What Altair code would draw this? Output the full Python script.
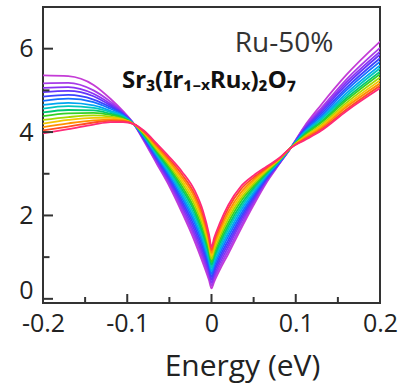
import altair as alt
import pandas as pd

# Energy grid (eV)
energy = [-0.2, -0.17, -0.14, -0.12, -0.105, -0.092, -0.08, -0.065, -0.05, -0.035,
          -0.02, -0.01, -0.003, 0.0, 0.003, 0.01, 0.02, 0.035, 0.05, 0.065,
          0.08, 0.094, 0.11, 0.13, 0.16, 0.2]

# 15 spectra (purple -> pink)
c00 = [5.36, 5.34, 5.13, 4.80, 4.50, 4.19, 3.78, 3.24, 2.70, 2.07, 1.38, 0.85, 0.45, 0.25, 0.40, 0.70, 1.08, 1.68, 2.25, 2.78, 3.22, 3.62, 4.13, 4.65, 5.37, 6.17]
c01 = [5.17, 5.18, 5.00, 4.73, 4.48, 4.19, 3.80, 3.27, 2.75, 2.14, 1.47, 0.94, 0.53, 0.32, 0.48, 0.78, 1.16, 1.75, 2.30, 2.81, 3.23, 3.62, 4.11, 4.57, 5.26, 6.02]
c02 = [5.06, 5.08, 4.92, 4.68, 4.46, 4.19, 3.82, 3.31, 2.80, 2.21, 1.55, 1.03, 0.61, 0.39, 0.55, 0.86, 1.25, 1.83, 2.35, 2.84, 3.24, 3.62, 4.08, 4.52, 5.19, 5.93]
c03 = [4.96, 4.99, 4.86, 4.64, 4.44, 4.19, 3.83, 3.34, 2.85, 2.28, 1.64, 1.12, 0.69, 0.46, 0.63, 0.94, 1.33, 1.90, 2.40, 2.86, 3.25, 3.62, 4.06, 4.48, 5.13, 5.86]
c04 = [4.85, 4.89, 4.78, 4.60, 4.43, 4.19, 3.85, 3.38, 2.90, 2.35, 1.73, 1.21, 0.76, 0.53, 0.70, 1.02, 1.41, 1.97, 2.45, 2.89, 3.26, 3.62, 4.04, 4.43, 5.06, 5.77]
c05 = [4.75, 4.80, 4.72, 4.56, 4.41, 4.19, 3.87, 3.41, 2.95, 2.42, 1.82, 1.30, 0.84, 0.60, 0.78, 1.10, 1.50, 2.04, 2.50, 2.92, 3.27, 3.62, 4.01, 4.38, 5.00, 5.69]
c06 = [4.65, 4.70, 4.64, 4.51, 4.39, 4.19, 3.89, 3.45, 3.00, 2.49, 1.90, 1.39, 0.92, 0.67, 0.85, 1.18, 1.58, 2.12, 2.55, 2.95, 3.28, 3.62, 3.99, 4.33, 4.93, 5.60]
c07 = [4.56, 4.62, 4.58, 4.48, 4.37, 4.19, 3.91, 3.48, 3.05, 2.56, 1.99, 1.48, 1.00, 0.75, 0.93, 1.26, 1.67, 2.19, 2.61, 2.98, 3.30, 3.62, 3.97, 4.30, 4.87, 5.53]
c08 = [4.47, 4.53, 4.52, 4.44, 4.35, 4.19, 3.92, 3.51, 3.10, 2.63, 2.08, 1.56, 1.08, 0.82, 1.00, 1.34, 1.75, 2.26, 2.66, 3.00, 3.31, 3.62, 3.94, 4.25, 4.81, 5.45]
c09 = [4.38, 4.45, 4.46, 4.41, 4.33, 4.19, 3.94, 3.55, 3.15, 2.70, 2.16, 1.65, 1.16, 0.89, 1.08, 1.42, 1.83, 2.34, 2.71, 3.03, 3.32, 3.62, 3.92, 4.22, 4.76, 5.39]
c10 = [4.29, 4.36, 4.40, 4.37, 4.31, 4.19, 3.96, 3.58, 3.20, 2.77, 2.25, 1.74, 1.24, 0.96, 1.15, 1.50, 1.92, 2.41, 2.76, 3.06, 3.33, 3.62, 3.89, 4.17, 4.70, 5.31]
c11 = [4.20, 4.29, 4.34, 4.34, 4.30, 4.19, 3.98, 3.62, 3.25, 2.84, 2.34, 1.83, 1.31, 1.03, 1.23, 1.58, 2.00, 2.48, 2.81, 3.09, 3.34, 3.62, 3.87, 4.14, 4.65, 5.24]
c12 = [4.12, 4.21, 4.28, 4.30, 4.28, 4.19, 3.99, 3.65, 3.30, 2.91, 2.43, 1.92, 1.39, 1.10, 1.30, 1.66, 2.08, 2.55, 2.86, 3.12, 3.35, 3.62, 3.85, 4.10, 4.60, 5.17]
c13 = [4.04, 4.13, 4.23, 4.27, 4.26, 4.19, 4.01, 3.69, 3.35, 2.98, 2.51, 2.01, 1.47, 1.17, 1.38, 1.74, 2.17, 2.63, 2.91, 3.14, 3.36, 3.62, 3.82, 4.06, 4.54, 5.11]
c14 = [3.97, 4.07, 4.18, 4.24, 4.24, 4.19, 4.03, 3.72, 3.40, 3.05, 2.60, 2.10, 1.55, 1.24, 1.45, 1.82, 2.25, 2.70, 2.96, 3.17, 3.37, 3.62, 3.80, 4.03, 4.50, 5.05]

series = [c00, c01, c02, c03, c04, c05, c06, c07, c08, c09, c10, c11, c12, c13, c14]
curve_names = [f"s{i:02d}" for i in range(len(series))]
colors = ["#c43cd6", "#a83ce8", "#8a32f2", "#6434fa", "#3a44ff", "#1470ff", "#00a6f0",
          "#00c6c0", "#00c872", "#34d024", "#a6d800", "#f2c600", "#ff9000", "#ff4e24", "#ff2a78"]

x_label_vals = [-0.2, -0.1, 0, 0.1, 0.2]
x_major = [-0.1, 0, 0.1]
x_minor = [-0.15, -0.05, 0.05, 0.15]
y_label_vals = [0, 2, 4, 6]
y_major = [0, 2, 4, 6]
y_minor = [1, 3, 5]
annot_ru = ["Ru-50%"]
annot_formula = ["Sr\u2083(Ir\u2081\u208b\u2093Ru\u2093)\u2082O\u2087"]

rows = []
for name, vals in zip(curve_names, series):
    for e, v in zip(energy, vals):
        rows.append({"curve": name, "E": e, "DOS": v})
df = pd.DataFrame(rows)

W, H = 337, 296
FONT = "Open Sans"
xscale = alt.Scale(domain=[-0.2, 0.2], nice=False, zero=False)
yscale = alt.Scale(domain=[-0.1, 7], nice=False, zero=False)

x_axis = alt.Axis(values=x_label_vals, labelExpr="'' + datum.value", ticks=False,
                  domain=False, grid=False, labelFont=FONT, labelFontSize=25,
                  labelColor="#222", labelPadding=8, labelFlush=False,
                  title="Energy (eV)", titleFont=FONT, titleFontSize=30,
                  titleFontWeight="normal", titleColor="#222", titleX=199, titleY=72,
                  titleBaseline="alphabetic", titleAlign="center")
y_axis = alt.Axis(values=y_label_vals, ticks=False, domain=False, grid=False,
                  labelFont=FONT, labelFontSize=25, labelColor="#222", labelPadding=10,
                  labelBaseline={"condition": {"test": "datum.value == 0", "value": "alphabetic"},
                                 "value": "middle"},
                  title=None)

lines = alt.Chart(df).mark_line(strokeWidth=1.8, interpolate="monotone", clip=True).encode(
    x=alt.X("E:Q", scale=xscale, axis=x_axis),
    y=alt.Y("DOS:Q", scale=yscale, axis=y_axis),
    color=alt.Color("curve:N", scale=alt.Scale(domain=curve_names, range=colors), legend=None),
    detail="curve:N",
)

def yticks(vals, length):
    return alt.Chart(pd.DataFrame({"DOS": vals})).mark_rule(color="#333", strokeWidth=2).encode(
        y=alt.Y("DOS:Q", scale=yscale, axis=y_axis), x=alt.value(0), x2=alt.value(length))

def xticks(vals, length):
    return alt.Chart(pd.DataFrame({"E": vals})).mark_rule(color="#333", strokeWidth=2).encode(
        x=alt.X("E:Q", scale=xscale, axis=x_axis), y=alt.value(H), y2=alt.value(H - length))

ru = alt.Chart(pd.DataFrame({"t": annot_ru})).mark_text(
    font=FONT, fontSize=28, color="#333", align="center", baseline="alphabetic").encode(
    text="t:N", x=alt.value(241), y=alt.value(45))

formula = alt.Chart(pd.DataFrame({"t": annot_formula})).mark_text(
    font="Noto Sans", fontSize=24, fontWeight="bold", color="#111", align="left",
    baseline="alphabetic").encode(text="t:N", x=alt.value(79), y=alt.value(81))

chart = alt.layer(
    lines,
    yticks(y_major, 10), yticks(y_minor, 6.5),
    xticks(x_major, 9), xticks(x_minor, 6),
    ru, formula,
).properties(
    width=W, height=H,
    padding={"left": 43, "top": 7, "right": 20, "bottom": 81},
    autosize=alt.AutoSizeParams(type="none"),
).configure_view(stroke="#333", strokeWidth=2)

chart.save("out.html", embed_options={"renderer": "svg", "actions": False})
